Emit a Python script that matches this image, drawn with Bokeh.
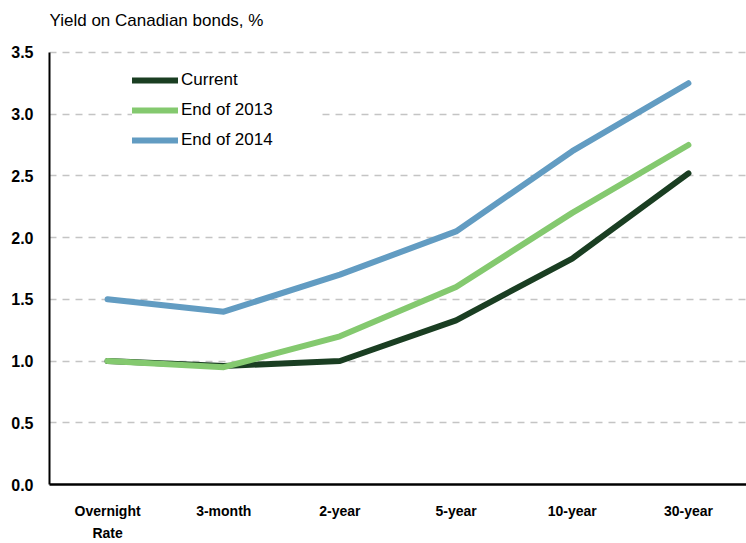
from bokeh.plotting import figure
from bokeh.models import FactorRange, Range1d, FixedTicker, PrintfTickFormatter, Legend, LegendItem, Label
from bokeh.embed import file_html
from bokeh.resources import INLINE

categories = ["Overnight\nRate", "3-month", "2-year", "5-year", "10-year", "30-year"]
current = [1.00, 0.96, 1.00, 1.33, 1.83, 2.52]
end_2013 = [1.00, 0.95, 1.20, 1.60, 2.20, 2.75]
end_2014 = [1.50, 1.40, 1.70, 2.05, 2.70, 3.25]
y_ticks = [0.0, 0.5, 1.0, 1.5, 2.0, 2.5, 3.0, 3.5]
title_text = "Yield on Canadian bonds, %"

series = [
    ("Current", current, "#1a3e22"),
    ("End of 2013", end_2013, "#84c96f"),
    ("End of 2014", end_2014, "#629cc2"),
]

Y_MAX = 3.5
# frame spans the full height above the x axis; extra headroom holds the title
Y_END = Y_MAX * 485 / 433

p = figure(
    width=746, height=543,
    x_range=FactorRange(*categories, range_padding=0),
    y_range=Range1d(0, Y_END),
    output_backend="svg", toolbar_location=None,
    min_border_left=49, min_border_right=0, min_border_top=0, min_border_bottom=0,
)
p.outline_line_color = None
p.background_fill_color = "white"
p.border_fill_color = "white"

title = Label(x=0, y=Y_MAX + 32 * Y_MAX / 433, x_units="screen", y_units="data", text=title_text,
              text_font="Liberation Sans", text_font_size="17px", text_color="#000000",
              text_baseline="middle", text_align="left")
p.add_layout(title)

items = []
for name, vals, col in series:
    r = p.line(categories, vals, line_width=6, line_color=col, line_cap="round", line_join="round")
    items.append(LegendItem(label=name, renderers=[r]))

legend = Legend(items=items, location=(83, 334))
legend.border_line_color = None
legend.background_fill_color = "white"
legend.background_fill_alpha = 1
legend.padding = 10
legend.margin = 0
legend.spacing = 10
legend.glyph_width = 46
legend.glyph_height = 20
legend.label_height = 20
legend.label_width = 140
legend.label_standoff = 3
legend.label_text_font = "Liberation Sans"
legend.label_text_font_size = "17px"
legend.label_text_color = "#000000"
p.add_layout(legend, "center")

p.xgrid.grid_line_color = None
p.ygrid.grid_line_color = "#c4c4c4"
p.ygrid.grid_line_dash = "7 6"
p.ygrid.grid_line_width = 1.5

p.yaxis.ticker = FixedTicker(ticks=y_ticks)
p.yaxis.bounds = (0, Y_MAX)
p.yaxis.formatter = PrintfTickFormatter(format="%.1f")
p.yaxis.axis_line_width = 2
p.yaxis.axis_line_color = "black"
p.yaxis.major_tick_line_color = None
p.yaxis.minor_tick_line_color = None
p.yaxis.major_tick_out = 0
p.yaxis.major_label_standoff = 16
p.yaxis.major_label_text_font = "Liberation Sans"
p.yaxis.major_label_text_font_style = "bold"
p.yaxis.major_label_text_font_size = "16px"
p.yaxis.major_label_text_color = "#000000"

p.xaxis.axis_line_width = 2.5
p.xaxis.axis_line_color = "black"
p.xaxis.major_tick_line_color = None
p.xaxis.minor_tick_line_color = None
p.xaxis.major_tick_out = 0
p.xaxis.major_label_standoff = 18
p.xaxis.major_label_text_font = "Liberation Sans"
p.xaxis.major_label_text_font_style = "bold"
p.xaxis.major_label_text_font_size = "14px"
p.xaxis.major_label_text_color = "#000000"
p.xaxis.major_label_text_line_height = 1.4

open("out.html", "w").write(file_html(p, INLINE))
